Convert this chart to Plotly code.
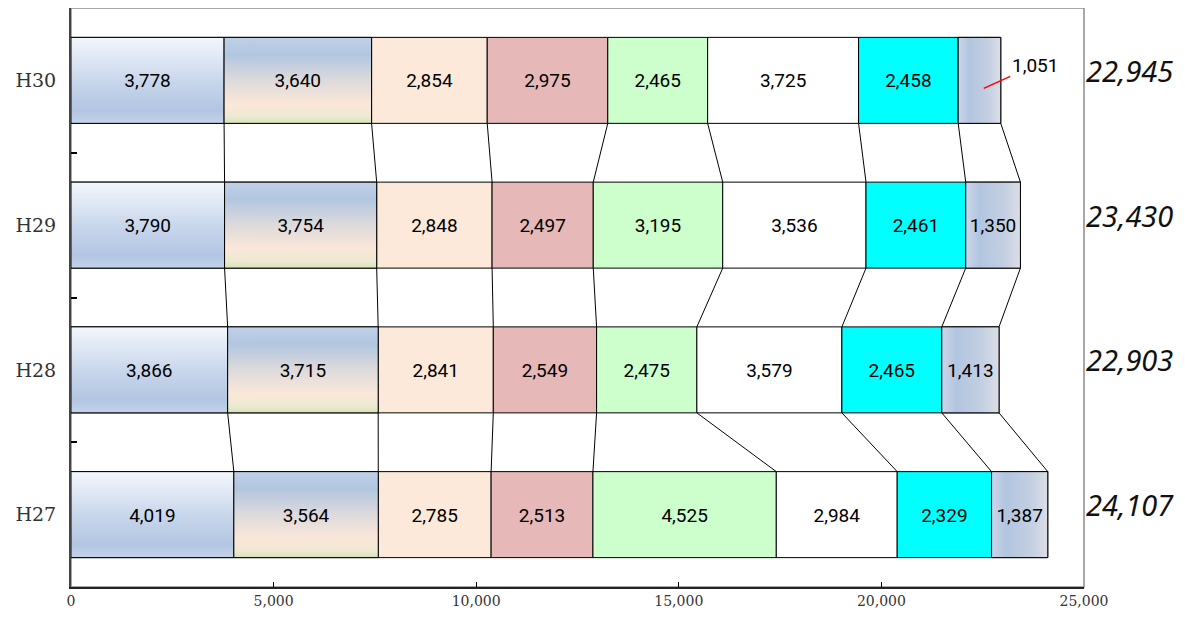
import plotly.graph_objects as go
import numpy as np

years = ["H27", "H28", "H29", "H30"]
s1 = [4019, 3866, 3790, 3778]
s2 = [3564, 3715, 3754, 3640]
s3 = [2785, 2841, 2848, 2854]
s4 = [2513, 2549, 2497, 2975]
s5 = [4525, 2475, 3195, 2465]
s6 = [2984, 3579, 3536, 3725]
s7 = [2329, 2465, 2461, 2458]
s8 = [1387, 1413, 1350, 1051]
totals = ["24,107", "22,903", "23,430", "22,945"]
x_ticks = [0, 5000, 10000, 15000, 20000, 25000]

series = [s1, s2, s3, s4, s5, s6, s7, s8]
colors = ["#cbd8ec", "#dcdcdc", "#fde9d9", "#e6b8b7", "#ccffcc", "#ffffff", "#00ffff", "#bccbe2"]
gradients = {
    0: dict(type="vertical", colorscale=[[0, "#c4d3eb"], [0.15, "#b2c5e2"], [0.5, "#c9d7ec"], [1, "#f4f7fc"]]),
    1: dict(type="vertical", colorscale=[[0, "#d6e4b8"], [0.08, "#ede9d2"], [0.22, "#fbe7d9"], [0.5, "#dddadc"], [0.8, "#b2c6e0"], [1, "#c0d0e8"]]),
    7: dict(type="horizontal", colorscale=[[0, "#cbd6ea"], [0.25, "#b2c5df"], [0.7, "#c3cfe2"], [1, "#dcdee6"]]),
}

W = 0.594
ypos = np.arange(len(years))
data = np.array(series)  # shape (8, 4)
cum = np.cumsum(data, axis=0)
start = cum - data

fig = go.Figure()

for k, vals in enumerate(series):
    fig.add_trace(go.Bar(
        y=ypos, x=vals, base=start[k], orientation="h", width=W,
        marker=dict(color=colors[k], line=dict(color="#000000", width=1)),
        showlegend=False, hoverinfo="x",
    ))

# gradient overlays for gradient-filled series
for k, g in gradients.items():
    for i in range(len(years)):
        x0, x1 = start[k][i], cum[k][i]
        y0, y1 = ypos[i] - W / 2, ypos[i] + W / 2
        fig.add_trace(go.Scatter(
            x=[x0, x1, x1, x0, x0], y=[y0, y0, y1, y1, y0],
            mode="lines", fill="toself", fillgradient=g,
            line=dict(color="#000000", width=1), showlegend=False, hoverinfo="skip",
        ))

# series connector lines
lx, ly = [], []
for k in range(len(series)):
    for i in range(len(years) - 1):
        lx += [cum[k][i], cum[k][i + 1], None]
        ly += [ypos[i] + W / 2, ypos[i + 1] - W / 2, None]
fig.add_trace(go.Scatter(x=lx, y=ly, mode="lines", line=dict(color="#000000", width=1),
                         showlegend=False, hoverinfo="skip"))

# data labels
tx, ty, tt = [], [], []
for k, vals in enumerate(series):
    for i, v in enumerate(vals):
        if k == 7 and i == 3:
            continue
        tx.append(start[k][i] + v / 2)
        ty.append(ypos[i] - 0.015)
        tt.append(f"{v:,}")
fig.add_trace(go.Scatter(x=tx, y=ty, text=tt, mode="text",
                         textfont=dict(family="Roboto", size=19, color="#000000"),
                         showlegend=False, hoverinfo="skip"))

# outside label for small H30 segment
fig.add_annotation(x=start[7][3] + data[7][3] * 0.6, y=ypos[3] - 0.055, text=f"{s8[3]:,}",
                   showarrow=True, arrowhead=0, arrowcolor="#ff0000", arrowwidth=1.5,
                   ax=51, ay=-23, font=dict(family="Roboto", size=19, color="#000000"))

# totals
for i, t in enumerate(totals):
    fig.add_annotation(x=1.045, xref="paper", y=ypos[i], yref="y", text=f"<i>{t}</i>",
                       showarrow=False, xanchor="center", yshift=10,
                       font=dict(family="Noto Sans", size=29, color="#111111"))

fig.add_shape(type="rect", xref="paper", yref="paper", x0=0, y0=0, x1=1, y1=1,
              line=dict(color="#8c8c8c", width=1.5), layer="below")

fig.update_layout(
    width=1177, height=611,
    margin=dict(l=63, r=101, t=0, b=32, autoexpand=False),
    plot_bgcolor="#ffffff", paper_bgcolor="#ffffff",
    barmode="overlay",
    showlegend=False,
    xaxis=dict(range=[0, 25000], tickvals=x_ticks, ticktext=[f"{v:,}" for v in x_ticks],
               automargin=False,
               showgrid=False, zeroline=False, showline=True, linecolor="#222222", linewidth=2,
               ticks="inside", ticklen=5, tickcolor="#000000",
               tickfont=dict(family="DejaVu Serif", size=14, color="#333333")),
    yaxis=dict(range=[-0.5, 3.5], tickvals=list(ypos), ticktext=years,
               automargin=False,
               showgrid=False, zeroline=False, showline=True, linecolor="#444444", linewidth=2,
               ticks="", ticklabelstandoff=9,
               minor=dict(tickvals=[0.5, 1.5, 2.5], ticks="inside", ticklen=6, tickcolor="#000000", tickwidth=2),
               tickfont=dict(family="DejaVu Serif", size=19, color="#333333")),
)

fig.write_html("out.html")
